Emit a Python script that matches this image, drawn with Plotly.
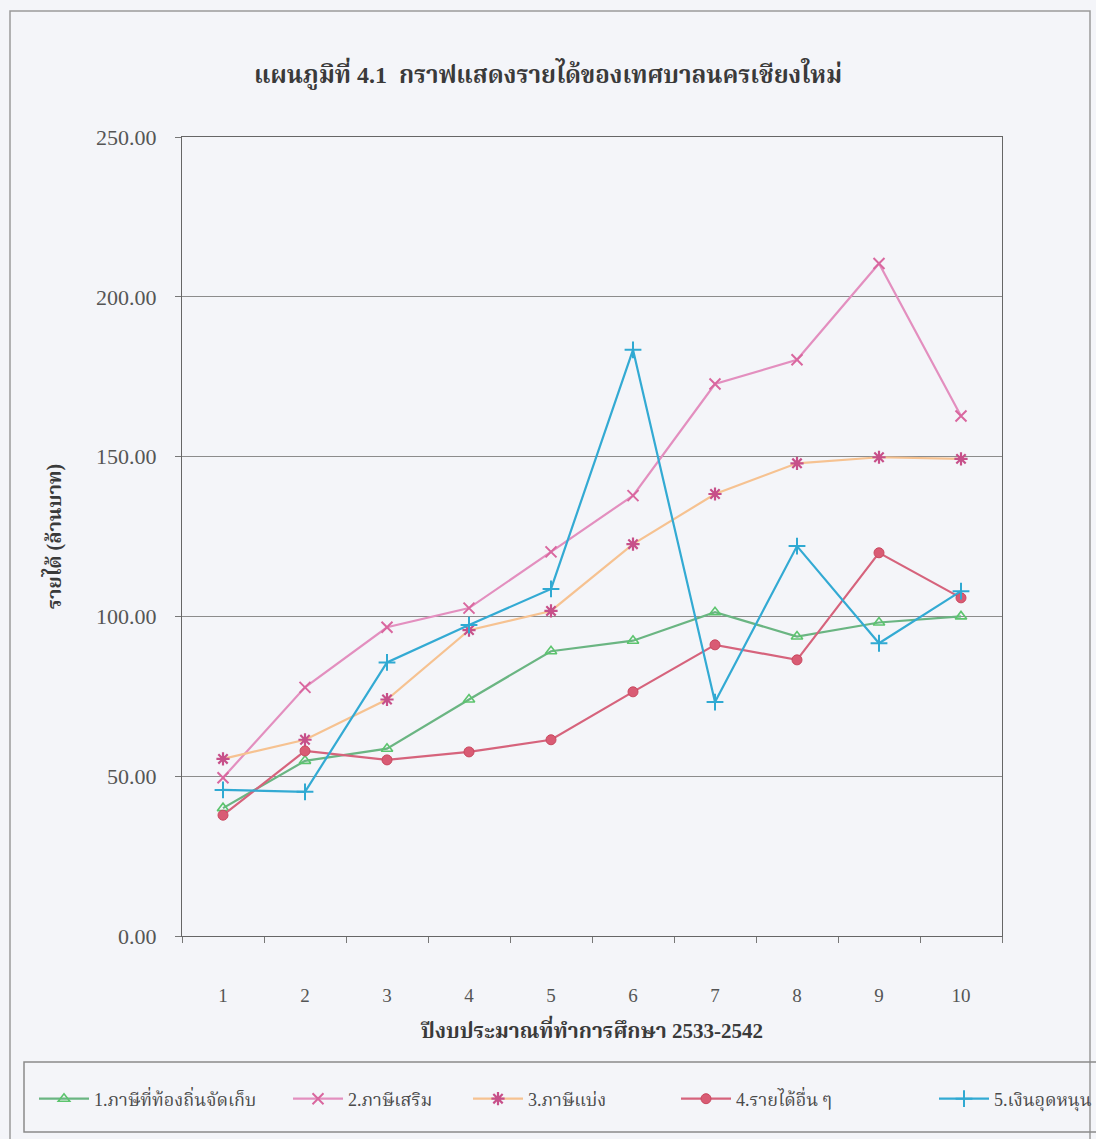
import plotly.graph_objects as go

years = ["1", "2", "3", "4", "5", "6", "7", "8", "9", "10"]
local_tax = [40.0, 54.8, 58.6, 74.0, 89.1, 92.4, 101.3, 93.7, 98.1, 100.0]
surcharge_tax = [49.5, 77.8, 96.6, 102.6, 120.2, 137.8, 172.7, 180.3, 210.4, 162.7]
shared_tax = [55.4, 61.4, 74.0, 95.7, 101.7, 122.6, 138.3, 147.9, 149.8, 149.3]
other_income = [37.8, 57.9, 55.1, 57.6, 61.4, 76.4, 91.1, 86.4, 119.9, 105.8]
subsidy = [45.7, 45.1, 85.6, 97.3, 108.6, 183.4, 73.2, 122.0, 91.6, 107.9]

names = ["1.ภาษีที่ท้องถิ่นจัดเก็บ", "2.ภาษีเสริม", "3.ภาษีแบ่ง", "4.รายได้อื่น ๆ", "5.เงินอุดหนุน"]

FONT = "Liberation Serif, Noto Serif Thai, Noto Sans Thai, serif"
BG = "#f4f5f9"

series = [
    (local_tax, "#6ab582", dict(symbol="triangle-up-open", size=10, color="#5cc46e", line=dict(width=1.6, color="#5cc46e"))),
    (surcharge_tax, "#e38fbf", dict(symbol="x-thin-open", size=11, color="#d9679f", line=dict(width=2, color="#d9679f"))),
    (shared_tax, "#f6c291", dict(symbol="asterisk-open", size=11, color="#c7508a", line=dict(width=2.2, color="#c7508a"))),
    (other_income, "#d6637c", dict(symbol="circle", size=10, color="#d95b74", line=dict(width=1, color="#c9485f"))),
    (subsidy, "#33aad3", dict(symbol="cross-thin-open", size=12, color="#2fa9d2", line=dict(width=2, color="#2fa9d2"))),
]

W, H = 1096, 1139
L, R, T, B = 182, 1002, 137, 936

legend_starts = [34, 288, 468, 676, 934]
legend_keys = ["legend", "legend2", "legend3", "legend4", "legend5"]

fig = go.Figure()
for (vals, lc, mk), nm, key in zip(series, names, legend_keys):
    fig.add_trace(go.Scatter(
        x=years, y=vals, name=nm, mode="lines+markers",
        line=dict(color=lc, width=2.2), marker=mk, legend=key,
    ))


def px_x(p):
    return (p - L) / (R - L)


def px_y(p):
    return (B - p) / (B - T)


legend_layouts = {}
for key, start in zip(legend_keys, legend_starts):
    legend_layouts[key] = dict(
        orientation="h", xref="container", yref="container",
        x=start / W, xanchor="left", y=1 - 1099 / H, yanchor="middle",
        bgcolor="rgba(0,0,0,0)", font=dict(family=FONT, size=18, color="#4a4a4a"),
        itemwidth=50,
    )

fig.update_layout(
    width=W, height=H,
    margin=dict(l=L, r=W - R, t=T, b=H - B),
    paper_bgcolor=BG, plot_bgcolor=BG,
    font=dict(family=FONT, color="#4a4a4a", size=18),
    title=dict(text="<b>แผนภูมิที่ 4.1  กราฟแสดงรายได้ของเทศบาลนครเชียงใหม่</b>",
               x=548 / W, xref="container", xanchor="center",
               y=1 - 75 / H, yref="container", yanchor="middle",
               font=dict(family=FONT, size=24, color="#3a3a3a")),
    showlegend=True,
    xaxis=dict(type="category", categoryorder="array", categoryarray=years,
               range=[-0.5, 9.5], tickson="boundaries", ticks="outside", ticklen=6,
               tickcolor="#777", showline=True, linecolor="#666", linewidth=1.2,
               mirror=True, showgrid=False, ticklabelstandoff=42,
               tickfont=dict(family=FONT, size=19, color="#555"),
               title=dict(text="<b>ปีงบประมาณที่ทำการศึกษา 2533-2542</b>", standoff=18,
                          font=dict(family=FONT, size=21, color="#3a3a3a"))),
    yaxis=dict(range=[0, 250], dtick=50, tickformat=".2f", ticks="outside", ticklen=6,
               tickcolor="#777", showline=True, linecolor="#666", linewidth=1.2,
               mirror=True, showgrid=True, gridcolor="#8c8c8c", gridwidth=1,
               zeroline=False, ticklabelstandoff=14,
               tickfont=dict(family=FONT, size=22, color="#555"),
               title=dict(text="<b>รายได้ (ล้านบาท)</b>", standoff=29,
                          font=dict(family=FONT, size=20, color="#3a3a3a"))),
    **legend_layouts,
)

fig.add_shape(type="rect", xref="paper", yref="paper",
              x0=px_x(10), x1=px_x(1090), y0=px_y(1160), y1=px_y(11),
              line=dict(color="#9a9a9a", width=1.5), layer="below")
fig.add_shape(type="rect", xref="paper", yref="paper",
              x0=px_x(24), x1=px_x(1110), y0=px_y(1132), y1=px_y(1062),
              line=dict(color="#8a8a8a", width=1.5), layer="below")

fig.write_html("out.html", config={"displayModeBar": False},
               post_script="document.body.style.margin='0';document.body.style.overflow='hidden';")
